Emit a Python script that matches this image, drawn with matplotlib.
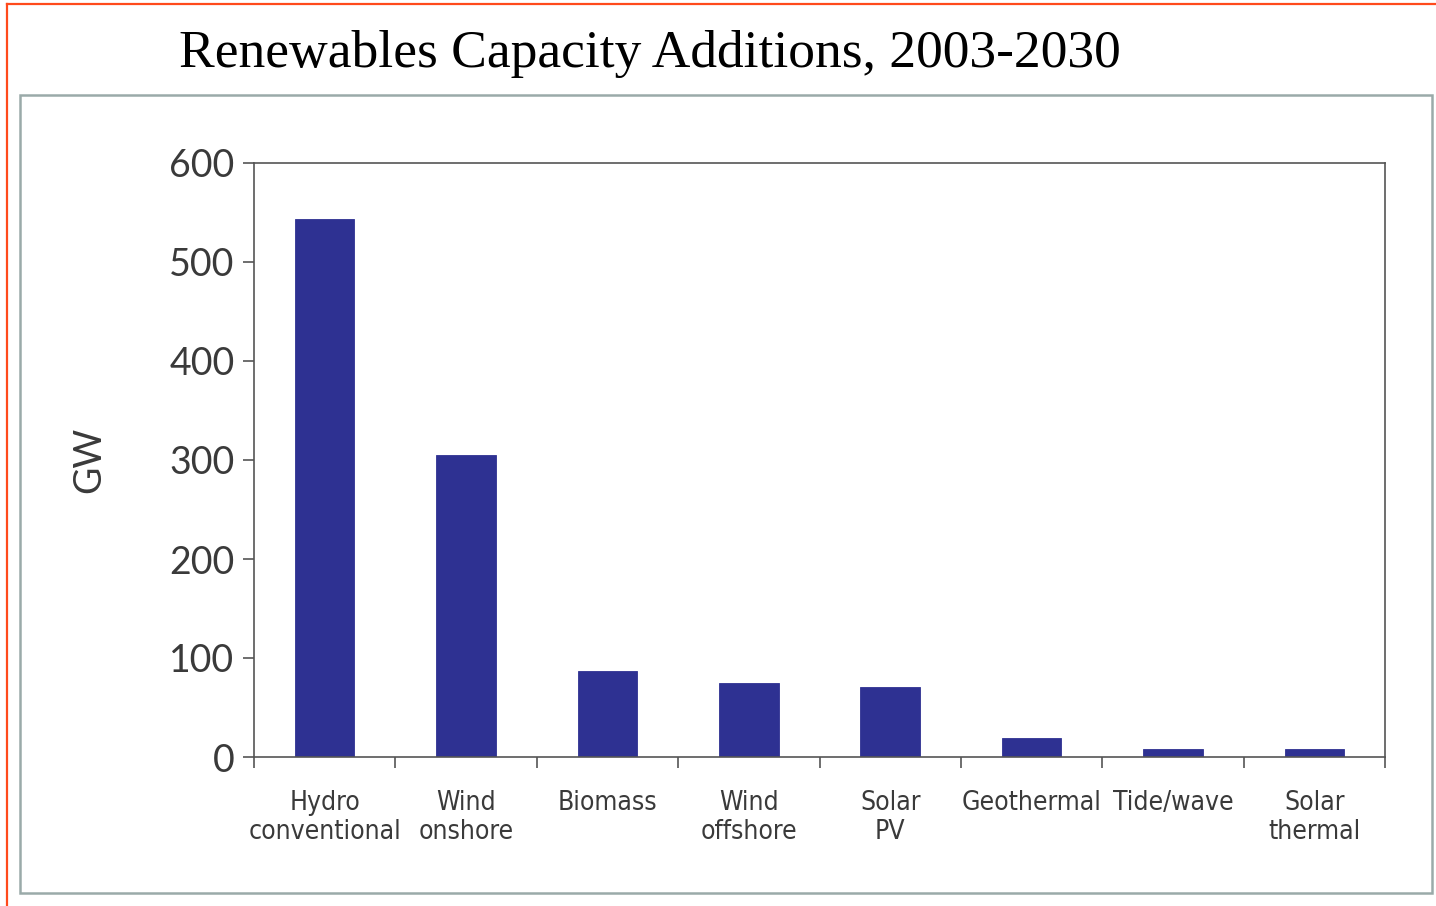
import matplotlib.pyplot as plt
from matplotlib.patches import Rectangle
from matplotlib.lines import Line2D

# renewable capacity additions by source, GW
sources = ["Hydro\nconventional", "Wind\nonshore", "Biomass", "Wind\noffshore",
           "Solar\nPV", "Geothermal", "Tide/wave", "Solar\nthermal"]
gw = [543, 305, 87, 75, 71, 19, 8, 8]
y_ticks = [0, 100, 200, 300, 400, 500, 600]

BAR = "#2e3192"
INK = "#3a3a3a"
SPINE = "#555555"

fig = plt.figure(figsize=(14.36, 9.06), dpi=100)
fig.patch.set_facecolor("white")

# outer frame and the orange border lines
fig.add_artist(Rectangle((20 / 1436, 1 - 893 / 906), 1412 / 1436, 798 / 906,
                         transform=fig.transFigure, fill=False,
                         edgecolor="#9aaaa9", lw=1.8))
fig.add_artist(Line2D([7 / 1436, 7 / 1436], [0, 1 - 4 / 906],
                      transform=fig.transFigure, color="#ff4a1c", lw=1.6))
fig.add_artist(Line2D([7 / 1436, 1], [1 - 4 / 906, 1 - 4 / 906],
                      transform=fig.transFigure, color="#ff4a1c", lw=1.6))

fig.text(650 / 1436, 1 - 54 / 906, "Renewables Capacity Additions, 2003-2030",
         ha="center", va="center", fontsize=38.5,
         family=["Liberation Serif", "DejaVu Serif"], color="black")

ax = fig.add_axes([254 / 1436, 149 / 906, 1131 / 1436, 594 / 906])
x = list(range(len(sources)))
ax.bar(x, gw, width=0.42, color=BAR, edgecolor=BAR, lw=0.6, zorder=2)

ax.set_xlim(-0.5, len(sources) - 0.5)
ax.set_ylim(0, 600)

for s in ax.spines.values():
    s.set_color(SPINE)
    s.set_linewidth(1.2)

ax.set_yticks(y_ticks)
ax.set_yticklabels([str(v) for v in y_ticks])
ax.tick_params(axis="y", direction="out", length=8, width=1.2, color=SPINE,
               pad=6, labelsize=27, labelcolor=INK)
for lab in ax.get_yticklabels():
    lab.set_family(["Lato", "DejaVu Sans"])

# category labels centred, tick marks between categories
ax.set_xticks(x)
ax.set_xticklabels(sources, fontsize=19, color=INK, linespacing=1.15,
                   family="DejaVu Sans", fontstretch="condensed")
ax.set_xticks([i - 0.5 for i in range(len(sources) + 1)], minor=True)
ax.tick_params(axis="x", which="major", length=0, pad=24)
ax.tick_params(axis="x", which="minor", direction="out", length=8,
               width=1.2, color=SPINE)

ax.set_ylabel("GW", fontsize=27, color=INK, family=["Lato", "DejaVu Sans"])
ax.yaxis.set_label_coords(-0.130, 0.5)

fig.savefig("out.png", dpi=100)
